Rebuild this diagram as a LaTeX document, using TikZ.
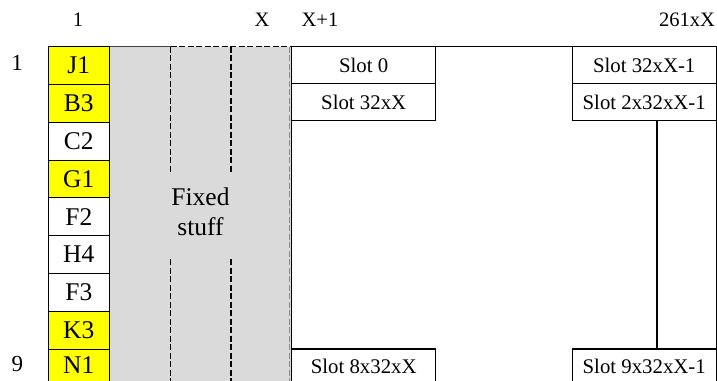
\documentclass[tikz,border=0pt]{standalone}
\usepackage{fontspec}
\setmainfont{Liberation Serif}
\definecolor{fillgray}{RGB}{218,218,218}
\definecolor{cellyellow}{RGB}{255,255,0}
\newcommand{\cellfnt}{\fontsize{25.5}{30}\selectfont}
\newcommand{\slotfnt}{\fontsize{20.8}{24}\selectfont}
\newcommand{\headfnt}{\fontsize{20.5}{24}\selectfont}
\newcommand{\rowfnt}{\fontsize{23}{27}\selectfont}
\tikzset{
  cellbox/.style={draw, line width=1.1pt, minimum width=61pt, minimum height=37.8pt, inner sep=0pt, font=\cellfnt},
  slotbox/.style={draw, line width=1.1pt, fill=white, minimum width=144pt, minimum height=37pt, inner sep=0pt, font=\slotfnt},
  headlbl/.style={anchor=base, inner sep=0pt, font=\headfnt},
  rowlbl/.style={anchor=base, inner sep=0pt, font=\rowfnt},
  dashline/.style={line width=1.2pt, dash pattern=on 6pt off 2.5pt},
  frameline/.style={line width=1.1pt}
}
\begin{document}
\begin{tikzpicture}[x=1pt,y=1pt]
\useasboundingbox (0,0) rectangle (717,-380);
\clip (0,0) rectangle (717,-380);
% grey fixed region
\fill[fillgray] (109.3,-46.7) rectangle (291.7,-400);
\draw[line width=0.8pt, black!75] (109.3,-46.7) -- (170.7,-46.7);
\draw[dashline] (170.7,-46.7) -- (291,-46.7);
\draw[dashline, black!45, line width=0.9pt] (289.6,-46.7) -- (289.6,-400);
\draw[dashline] (170.7,-46.7) -- (170.7,-173);
\draw[dashline] (170.7,-259) -- (170.7,-400);
\draw[dashline] (231,-46.7) -- (231,-173);
\draw[dashline] (231,-259) -- (231,-400);
\node[align=center, font=\cellfnt, inner sep=0pt] (fixed) at (200.5,-212) {Fixed\\stuff};
% slot area frame
\draw[frameline] (291.7,-400) -- (291.7,-46.7) -- (716.2,-46.7) -- (716.2,-400);
% left column cells
\node[cellbox, fill=cellyellow] (j1) at (78.8,-65.6) {J1};
\node[cellbox, fill=cellyellow] (b3) at (78.8,-103.4) {B3};
\node[cellbox, fill=white] (c2) at (78.8,-141.2) {C2};
\node[cellbox, fill=cellyellow] (g1) at (78.8,-179.0) {G1};
\node[cellbox, fill=white] (f2) at (78.8,-216.8) {F2};
\node[cellbox, fill=white] (h4) at (78.8,-254.6) {H4};
\node[cellbox, fill=white] (f3) at (78.8,-292.4) {F3};
\node[cellbox, fill=cellyellow] (k3) at (78.8,-330.2) {K3};
% last cell runs past the bottom edge: fill and side borders drawn, text as its own node
\fill[cellyellow] (48.3,-349.1) rectangle (109.3,-400);
\draw[frameline] (48.3,-400) -- (48.3,-349.1) -- (109.3,-349.1) -- (109.3,-400);
\node[inner sep=0pt, font=\cellfnt] (n1) at (78.8,-365) {N1};
% slots
\node[slotbox] (s0) at (363.7,-65.2) {Slot 0};
\node[slotbox] (s1) at (363.7,-102.2) {Slot 32xX};
\node[slotbox] (r0) at (644.2,-65.2) {Slot 32xX-1};
\node[slotbox] (r1) at (644.2,-102.2) {Slot 2x32xX-1};
\node[slotbox] (s8) at (363.7,-367.5) {\raisebox{3pt}{Slot 8x32xX}};
\node[slotbox] (r8) at (644.2,-367.5) {\raisebox{3pt}{Slot 9x32xX-1}};
\coordinate (vx) at (657,0);
\draw[frameline] (r1.south -| vx) -- (r8.north -| vx);
% headers
\node[headlbl] (h1) at (78,-27) {1};
\node[headlbl] (hx) at (262,-27) {X};
\node[headlbl] (hx1) at (320,-27) {X+1};
\node[headlbl] (hend) at (687,-27) {261xX};
\node[rowlbl] (row1) at (17,-70) {1};
\node[rowlbl] (row9) at (17.5,-371.5) {9};
\end{tikzpicture}
\end{document}
